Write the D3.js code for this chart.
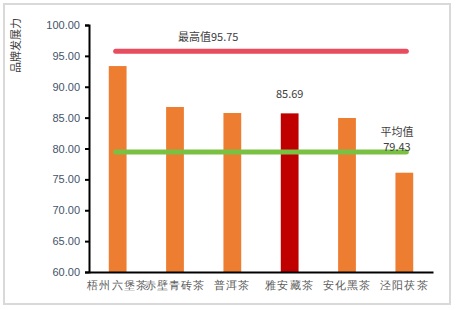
<!DOCTYPE html>
<head>
    <style>
        body { margin: 0; background: #fff; }
        svg { font-family: "Noto Sans CJK SC", "DejaVu Sans", sans-serif; }
    </style>
</head>
<body>
    <script src="https://d3js.org/d3.v7.min.js"></script>
    <script>
        const w = 457, h = 310;
        const categories = ['梧州六堡茶', '赤壁青砖茶', '普洱茶', '雅安藏茶', '安化黑茶', '泾阳茯茶'];
        const values = [93.35, 86.72, 85.75, 85.69, 84.94, 76.08];
        const highlight = '雅安藏茶';
        const maxValue = 95.75;
        const avgValue = 79.43;
        const yTicks = [60, 65, 70, 75, 80, 85, 90, 95, 100];

        const svg = d3.select('body').append('svg')
                      .attr('width', w).attr('height', h);

        svg.append('rect')
           .attr('x', 4).attr('y', 4)
           .attr('width', 446).attr('height', 300)
           .attr('fill', '#fff')
           .attr('stroke', '#d9d9d9').attr('stroke-width', 2);

        const x = d3.scaleBand().domain(categories).range([89, 433]).paddingInner(0.69).paddingOuter(0.345);
        const y = d3.scaleLinear().domain([60, 100]).range([272, 25]);

        // bars
        svg.selectAll('rect.bar')
           .data(values)
           .enter()
           .append('rect')
           .attr('class', 'bar')
           .attr('x', (d, i) => x(categories[i]))
           .attr('y', d => y(d))
           .attr('width', x.bandwidth())
           .attr('height', d => y(60) - y(d))
           .attr('fill', (d, i) => categories[i] === highlight ? '#c00000' : '#ed7d31');

        // y axis
        const yAxis = svg.append('g')
           .attr('transform', 'translate(89,0)')
           .call(d3.axisLeft(y).tickValues(yTicks).tickFormat(d3.format('.2f')).tickSize(4).tickSizeOuter(4));
        yAxis.select('.domain').attr('stroke', '#000').attr('stroke-width', 2);
        yAxis.selectAll('.tick line').attr('stroke', '#000').attr('stroke-width', 2);
        yAxis.selectAll('.tick text')
             .attr('x', -9)
             .attr('fill', '#44546a')
             .style('font-family', '"Liberation Sans", "DejaVu Sans", sans-serif')
             .style('font-size', '11px');

        // x axis
        const xAxis = svg.append('g')
           .attr('transform', 'translate(0,272)')
           .call(d3.axisBottom(x).tickSize(0));
        xAxis.select('.domain').attr('stroke', '#000').attr('stroke-width', 2);
        xAxis.selectAll('.tick text')
             .attr('y', 10)
             .attr('dy', '0.71em')
             .attr('fill', '#595959')
             .style('font-size', '10.5px')
             .style('letter-spacing', '1.2px');

        // reference lines
        const x0 = x(categories[0]) + x.bandwidth() / 2 - 2;
        const x1 = x(categories[categories.length - 1]) + x.bandwidth() / 2 + 2;
        svg.append('line')
           .attr('x1', x0).attr('x2', x1)
           .attr('y1', y(maxValue)).attr('y2', y(maxValue))
           .attr('stroke', '#e84c5e').attr('stroke-width', 5)
           .attr('stroke-linecap', 'round');
        svg.append('line')
           .attr('x1', x0).attr('x2', x1)
           .attr('y1', y(avgValue)).attr('y2', y(avgValue))
           .attr('stroke', '#7ac143').attr('stroke-width', 5)
           .attr('stroke-linecap', 'round');

        // labels
        svg.append('text')
           .attr('x', 178).attr('y', 41)
           .attr('fill', '#404040')
           .style('font-size', '11px')
           .text('最高值' + maxValue.toFixed(2));

        const hi = categories.indexOf(highlight);
        svg.append('text')
           .attr('x', x(highlight) + x.bandwidth() / 2)
           .attr('y', y(values[hi]) - 15)
           .attr('text-anchor', 'middle')
           .attr('fill', '#404040')
           .style('font-size', '11px')
           .text(values[hi].toFixed(2));

        svg.append('text')
           .attr('x', 397).attr('y', 136)
           .attr('text-anchor', 'middle')
           .attr('fill', '#404040')
           .style('font-size', '11px')
           .text('平均值');
        svg.append('text')
           .attr('x', 397).attr('y', 151)
           .attr('text-anchor', 'middle')
           .attr('fill', '#404040')
           .style('font-size', '11px')
           .text(avgValue.toFixed(2));

        // y axis title
        svg.append('text')
           .attr('transform', 'translate(20,18) rotate(-90)')
           .attr('text-anchor', 'end')
           .attr('fill', '#404040')
           .style('font-size', '11px')
           .text('品牌发展力');
    </script>
</body>
